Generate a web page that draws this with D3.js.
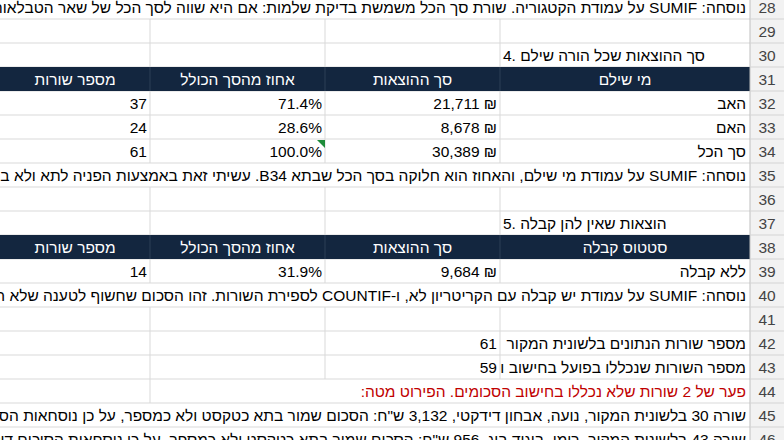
<!DOCTYPE html>
<html><head><meta charset="utf-8">
<script src="https://cdn.jsdelivr.net/npm/d3@7"></script>
<style>body{margin:0;background:#fff}svg{display:block}</style>
</head><body>
<svg id="sheet" width="784" height="440"></svg>
<script>
// sheet rows shown in the picture
const rowNumbers = d3.range(28, 47);

// note lines that spill across the whole sheet
const noteRows = {
  28: 'נוסחה: SUMIF על עמודת הקטגוריה. שורת סך הכל משמשת בדיקת שלמות: אם היא שווה לסך הכל של שאר הטבלאות, סימן שלא נפלו שורות.',
  35: 'נוסחה: SUMIF על עמודת מי שילם, והאחוז הוא חלוקה בסך הכל שבתא B34. עשיתי זאת באמצעות הפניה לתא ולא במספר קבוע.',
  40: 'נוסחה: SUMIF על עמודת יש קבלה עם הקריטריון לא, ו-COUNTIF לספירת השורות. זהו הסכום שחשוף לטענה שלא הוכח.',
  45: 'שורה 30 בלשונית המקור, נועה, אבחון דידקטי, 3,132 ש"ח: הסכום שמור בתא כטקסט ולא כמספר, על כן נוסחאות הסיכום דילגו עליו.',
  46: 'שורה 43 בלשונית המקור, רומי, ביגוד ביג, 956 ש"ח: הסכום שמור בתא כטקסט ולא כמספר, על כן נוסחאות הסיכום דילגו עליו.'
};

const titles = {30: '4. סך ההוצאות שכל הורה שילם', 37: '5. הוצאות שאין להן קבלה'};

const headerRows = [31, 38];
const headers1 = ['מי שילם', 'סך ההוצאות', 'אחוז מהסך הכולל', 'מספר שורות'];
const headers2 = ['סטטוס קבלה', 'סך ההוצאות', 'אחוז מהסך הכולל', 'מספר שורות'];

// table 4
const payers = ['האב', 'האם', 'סך הכל'];
const payerSums = [21711, 8678, 30389];
const payerPct = [71.4, 28.6, 100.0];
const payerCount = [37, 24, 61];

// table 5
const receiptStatus = ['ללא קבלה'];
const receiptSums = [9684];
const receiptPct = [31.9];
const receiptCount = [14];

const checkLabels = ['מספר שורות הנתונים בלשונית המקור', 'מספר השורות שנכללו בפועל בחישוב ו'];
const checkValues = [61, 59];
const gapNote = 'פער של 2 שורות שלא נכללו בחישוב הסכומים. הפירוט מטה:';

// layout
const font = '"Liberation Sans Narrow", "Liberation Sans", sans-serif';
const fs = 15.5;
const svg = d3.select('#sheet');
const W = 784, H = 440;
const y = d3.scaleBand().domain(rowNumbers).range([-5, -5 + 24 * rowNumbers.length]);
// columns from right to left: label, sum, pct, count
const colEdges = [750, 500, 325, 150, 0];
const x = d3.scaleOrdinal().domain([0, 1, 2, 3, 4]).range(colEdges);

const grid = svg.append('g'), cells = svg.append('g');
const fmt = d3.format(',');

// horizontal grid
rowNumbers.forEach(r => {
  grid.append('line').attr('x1', 0).attr('x2', 750)
    .attr('y1', y(r) + y.bandwidth()).attr('y2', y(r) + y.bandwidth())
    .attr('stroke', '#d9d9d9');
});
// vertical grid, skipped where text spills over
const spill = {44: [1, 2]};
rowNumbers.forEach(r => {
  if (noteRows[r] || headerRows.includes(r)) return;
  [1, 2, 3].forEach(c => {
    if (spill[r] && spill[r].includes(c)) return;
    grid.append('line').attr('x1', x(c)).attr('x2', x(c))
      .attr('y1', y(r)).attr('y2', y(r) + y.bandwidth()).attr('stroke', '#d9d9d9');
  });
});

function txt(r, xx, s, anchor, opt = {}) {
  return cells.append('text').attr('x', xx).attr('y', y(r) + y.bandwidth() / 2 + 6)
    .attr('text-anchor', anchor).attr('direction', opt.dir || 'rtl')
    .attr('font-family', font).attr('font-size', fs)
    .attr('fill', opt.fill || '#000')
    .attr('clip-path', opt.clip ? `url(#${opt.clip})` : null)
    .text(s);
}

// notes
Object.entries(noteRows).forEach(([r, s]) => txt(+r, 746, s, 'start'));
Object.entries(titles).forEach(([r, s]) => txt(+r, 503, s, 'start', {dir: 'ltr'}));

// header bars
function header(r, labels) {
  cells.append('rect').attr('x', 0).attr('y', y(r)).attr('width', 750).attr('height', y.bandwidth()).attr('fill', '#13263f');
  labels.forEach((l, i) => {
    if (i > 0) cells.append('line').attr('x1', x(i)).attr('x2', x(i)).attr('y1', y(r)).attr('y2', y(r) + y.bandwidth()).attr('stroke', '#2d3f57');
    txt(r, (x(i) + x(i + 1)) / 2, l, 'middle', {fill: '#fff'});
  });
}
header(31, headers1);
header(38, headers2);

function tableRows(start, labels, sums, pcts, counts) {
  labels.forEach((l, i) => {
    const r = start + i;
    txt(r, x(0) - 4, l, 'start');
    txt(r, x(1) - 3, fmt(sums[i]) + ' ₪', 'end', {dir: 'ltr'});
    txt(r, x(2) - 3, pcts[i].toFixed(1) + '%', 'end', {dir: 'ltr'});
    txt(r, x(3) - 3, counts[i], 'end', {dir: 'ltr'});
  });
}
tableRows(32, payers, payerSums, payerPct, payerCount);
tableRows(39, receiptStatus, receiptSums, receiptPct, receiptCount);

// error indicator on total pct
cells.append('path').attr('d', `M${x(2) - 8},${y(34) + 1}L${x(2)},${y(34) + 1}L${x(2)},${y(34) + 9}Z`).attr('fill', '#1e8c3a');

// check rows
const defs = svg.append('defs');
checkLabels.forEach((l, i) => {
  const r = 42 + i;
  defs.append('clipPath').attr('id', 'c' + r).append('rect')
    .attr('x', x(1) + 1).attr('y', y(r)).attr('width', x(0) - x(1) - 1).attr('height', y.bandwidth());
  txt(r, x(0) - 4, l, 'start', {clip: 'c' + r});
  txt(r, x(1) - 3, checkValues[i], 'end', {dir: 'ltr'});
});
txt(44, x(0) - 4, gapNote, 'start', {fill: '#c00000'});

// row number column
const rn = svg.append('g');
rn.append('rect').attr('x', 750).attr('y', 0).attr('width', W - 750).attr('height', H).attr('fill', '#f2f2f2');
rn.append('line').attr('x1', 750).attr('x2', 750).attr('y1', 0).attr('y2', H).attr('stroke', '#bfbfbf');
rowNumbers.forEach(r => {
  rn.append('line').attr('x1', 750).attr('x2', W).attr('y1', y(r) + y.bandwidth()).attr('y2', y(r) + y.bandwidth()).attr('stroke', '#d4d4d4');
  rn.append('text').attr('x', 767).attr('y', y(r) + y.bandwidth() / 2 + 6).attr('text-anchor', 'middle')
    .attr('font-family', font).attr('font-size', fs).attr('fill', '#444').text(r);
});
</script>
</body></html>
